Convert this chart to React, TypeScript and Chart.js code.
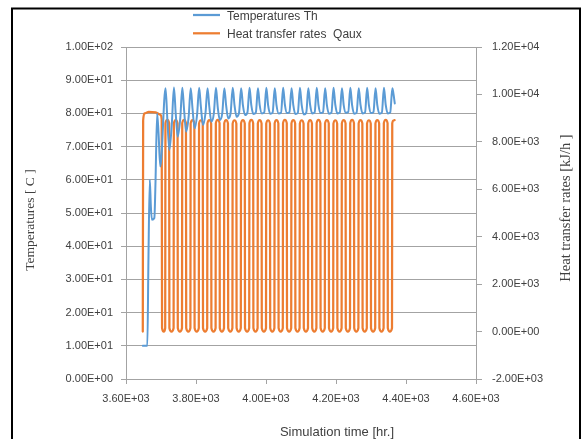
import React, { useEffect, useRef } from "react";
import { Chart, registerables } from "chart.js";

Chart.register(...registerables);

// ---- Data ----
const seriesLabels = ["Temperatures Th", "Heat transfer rates  Qaux"];

// Temperatures Th [C] (left axis)
const thHours = [
  3648, 3661, 3664, 3668, 3671, 3674, 3681, 3684, 3689, 3693, 3698,
  3713, 3718, 3724, 3731,
  3737, 3742, 3748, 3755,
  3761, 3766, 3772, 3779,
  3785, 3790, 3796, 3803,
  3809, 3814, 3820, 3827,
  3833, 3838, 3844, 3851,
  3857, 3862, 3868, 3875,
  3881, 3886, 3892, 3899,
  3905, 3910, 3916, 3923,
  3929, 3934, 3940, 3947,
  3953, 3958, 3964, 3971,
  3977, 3982, 3988, 3995,
  4001, 4006, 4012, 4019,
  4025, 4030, 4036, 4043,
  4049, 4054, 4060, 4067,
  4073, 4078, 4084, 4091,
  4097, 4102, 4108, 4115,
  4121, 4126, 4132, 4139,
  4145, 4150, 4156, 4163,
  4169, 4174, 4180, 4187,
  4193, 4198, 4204, 4211,
  4217, 4222, 4228, 4235,
  4241, 4246, 4252, 4259,
  4265, 4270, 4276, 4283,
  4289, 4294, 4300, 4307,
  4313, 4318, 4324, 4331,
  4337, 4342, 4348, 4355,
  4361, 4364, 4368,
];
const thValues = [
  10, 10, 35, 60, 52, 48, 48.5, 58, 80, 74, 64,
  87.6, 78.5, 69, 77,
  87.8, 80, 73, 78.5,
  87.7, 81, 74.5, 79,
  87.6, 81.5, 75.5, 79.5,
  87.7, 82, 76.5, 80,
  87.6, 82, 77.5, 80,
  87.7, 82, 78, 80,
  87.6, 82.5, 78.5, 80.2,
  87.7, 82.5, 79, 80.2,
  87.6, 82.5, 79.5, 80.3,
  87.7, 82.5, 79.8, 80.3,
  87.6, 82.5, 80, 80.3,
  87.7, 82.5, 79.9, 80.3,
  87.6, 82.5, 80, 80.2,
  87.7, 82.6, 80.1, 80.4,
  87.6, 82.5, 79.8, 80.2,
  87.7, 82.5, 79.7, 80.2,
  87.6, 82.6, 80, 80.3,
  87.7, 82.5, 80.1, 80.4,
  87.6, 82.5, 79.9, 80.2,
  87.7, 82.6, 80, 80.3,
  87.6, 82.5, 80.2, 80.4,
  87.7, 82.5, 79.9, 80.3,
  87.6, 82.6, 80, 80.3,
  87.7, 82.5, 80.1, 80.4,
  87.6, 82.5, 79.9, 80.2,
  87.7, 82.6, 80, 80.3,
  87.6, 86, 83,
];

// Heat transfer rates Qaux [kJ/h] (right axis)
const qauxHours = [
  3648, 3649, 3653, 3665, 3685, 3698, 3702, 3703, 3708,
  3712, 3712.7, 3718, 3723.3, 3724, 3730,
  3736, 3736.7, 3742, 3747.3, 3748, 3754,
  3760, 3760.7, 3766, 3771.3, 3772, 3778,
  3784, 3784.7, 3790, 3795.3, 3796, 3802,
  3808, 3808.7, 3814, 3819.3, 3820, 3826,
  3832, 3832.7, 3838, 3843.3, 3844, 3850,
  3856, 3856.7, 3862, 3867.3, 3868, 3874,
  3880, 3880.7, 3886, 3891.3, 3892, 3898,
  3904, 3904.7, 3910, 3915.3, 3916, 3922,
  3928, 3928.7, 3934, 3939.3, 3940, 3946,
  3952, 3952.7, 3958, 3963.3, 3964, 3970,
  3976, 3976.7, 3982, 3987.3, 3988, 3994,
  4000, 4000.7, 4006, 4011.3, 4012, 4018,
  4024, 4024.7, 4030, 4035.3, 4036, 4042,
  4048, 4048.7, 4054, 4059.3, 4060, 4066,
  4072, 4072.7, 4078, 4083.3, 4084, 4090,
  4096, 4096.7, 4102, 4107.3, 4108, 4114,
  4120, 4120.7, 4126, 4131.3, 4132, 4138,
  4144, 4144.7, 4150, 4155.3, 4156, 4162,
  4168, 4168.7, 4174, 4179.3, 4180, 4186,
  4192, 4192.7, 4198, 4203.3, 4204, 4210,
  4216, 4216.7, 4222, 4227.3, 4228, 4234,
  4240, 4240.7, 4246, 4251.3, 4252, 4258,
  4264, 4264.7, 4270, 4275.3, 4276, 4282,
  4288, 4288.7, 4294, 4299.3, 4300, 4306,
  4312, 4312.7, 4318, 4323.3, 4324, 4330,
  4336, 4336.7, 4342, 4347.3, 4348, 4354,
  4360, 4360.7, 4364, 4367.5,
];
const qauxValues = [
  0, 8900, 9200, 9260, 9240, 9150, 8950, 150, 0,
  150, 8790, 8930, 8790, 150, 0,
  150, 8780, 8920, 8780, 150, 0,
  150, 8790, 8930, 8790, 150, 0,
  150, 8780, 8920, 8780, 150, 0,
  150, 8770, 8910, 8770, 150, 0,
  150, 8780, 8920, 8780, 150, 0,
  150, 8790, 8930, 8790, 150, 0,
  150, 8780, 8920, 8780, 150, 0,
  150, 8770, 8910, 8770, 150, 0,
  150, 8780, 8920, 8780, 150, 0,
  150, 8790, 8930, 8790, 150, 0,
  150, 8780, 8920, 8780, 150, 0,
  150, 8770, 8910, 8770, 150, 0,
  150, 8780, 8920, 8780, 150, 0,
  150, 8790, 8930, 8790, 150, 0,
  150, 8780, 8920, 8780, 150, 0,
  150, 8770, 8910, 8770, 150, 0,
  150, 8780, 8920, 8780, 150, 0,
  150, 8790, 8930, 8790, 150, 0,
  150, 8780, 8920, 8780, 150, 0,
  150, 8770, 8910, 8770, 150, 0,
  150, 8780, 8920, 8780, 150, 0,
  150, 8790, 8930, 8790, 150, 0,
  150, 8780, 8920, 8780, 150, 0,
  150, 8770, 8910, 8770, 150, 0,
  150, 8780, 8920, 8780, 150, 0,
  150, 8790, 8930, 8790, 150, 0,
  150, 8780, 8900, 8920,
];

const xTickLabels = ["3.60E+03", "3.80E+03", "4.00E+03", "4.20E+03", "4.40E+03", "4.60E+03"];
const yTickLabels = [
  "0.00E+00", "1.00E+01", "2.00E+01", "3.00E+01", "4.00E+01", "5.00E+01",
  "6.00E+01", "7.00E+01", "8.00E+01", "9.00E+01", "1.00E+02",
];
const y2TickLabels = [
  "-2.00E+03", "0.00E+00", "2.00E+03", "4.00E+03", "6.00E+03", "8.00E+03", "1.00E+04", "1.20E+04",
];
const xTitle = "Simulation time [hr.]";
const yTitle = "Temperatures [ C ]";
const y2Title = "Heat transfer rates [kJ/h ]";

// ---- Styling ----
const BLUE = "#5B9BD5";
const ORANGE = "#ED7D31";
const GRID = "#a3a3a3";
const TEXT = "#404040";
const SANS = "'Liberation Sans', Arial, sans-serif";
const SERIF = "'Liberation Serif', 'Times New Roman', serif";

const decorPlugin = {
  id: "decor",
  afterDraw(chart: any) {
    const ctx = chart.ctx as CanvasRenderingContext2D;
    ctx.save();
    // outer frame
    ctx.strokeStyle = "#000";
    ctx.lineWidth = 2;
    ctx.beginPath();
    ctx.moveTo(12, 440);
    ctx.lineTo(12, 8.5);
    ctx.lineTo(580, 8.5);
    ctx.lineTo(580, 440);
    ctx.stroke();

    // legend (stacked)
    chart.data.datasets.forEach((ds: any, i: number) => {
      const y = 15 + i * 18.3;
      ctx.strokeStyle = ds.borderColor;
      ctx.lineWidth = 2.25;
      ctx.beginPath();
      ctx.moveTo(193, y);
      ctx.lineTo(220, y);
      ctx.stroke();
      ctx.fillStyle = TEXT;
      ctx.font = `12px ${SANS}`;
      ctx.textAlign = "left";
      ctx.textBaseline = "alphabetic";
      ctx.fillText(ds.label, 227, y + 4.5);
    });

    // x title
    ctx.fillStyle = TEXT;
    ctx.font = `13px ${SANS}`;
    ctx.textAlign = "center";
    ctx.textBaseline = "middle";
    ctx.fillText(xTitle, 337, 432);

    // left title
    ctx.save();
    ctx.translate(30, 220);
    ctx.rotate(-Math.PI / 2);
    ctx.font = `13.5px ${SERIF}`;
    ctx.fillText(yTitle, 0, 0);
    ctx.restore();

    // right title
    ctx.save();
    ctx.translate(566.5, 208);
    ctx.rotate(-Math.PI / 2);
    ctx.font = `14.5px ${SERIF}`;
    ctx.fillText(y2Title, 0, 0);
    ctx.restore();

    ctx.restore();
  },
};

export default function App() {
  const ref = useRef<HTMLCanvasElement | null>(null);

  useEffect(() => {
    if (!ref.current) return;
    const thData = thHours.map((h, i) => ({ x: h, y: thValues[i] }));
    const qData = qauxHours.map((h, i) => ({ x: h, y: qauxValues[i] }));
    const tickFont = { family: SANS, size: 11 };

    const chart = new Chart(ref.current, {
      type: "line",
      data: {
        datasets: [
          {
            label: seriesLabels[0],
            data: thData,
            yAxisID: "y",
            borderColor: BLUE,
            backgroundColor: BLUE,
            borderWidth: 2,
            pointRadius: 0,
            cubicInterpolationMode: "monotone",
            borderJoinStyle: "round",
            borderCapStyle: "round",
            fill: false,
          },
          {
            label: seriesLabels[1],
            data: qData,
            yAxisID: "y2",
            borderColor: ORANGE,
            backgroundColor: ORANGE,
            borderWidth: 2.25,
            pointRadius: 0,
            cubicInterpolationMode: "monotone",
            borderJoinStyle: "round",
            borderCapStyle: "round",
            fill: false,
          },
        ],
      },
      options: {
        responsive: false,
        animation: false,
        devicePixelRatio: 1,
        events: [],
        layout: { padding: { top: 47, left: 0, right: 0, bottom: 0 } },
        plugins: {
          legend: { display: false },
          tooltip: { enabled: false },
          title: { display: false },
        },
        scales: {
          x: {
            type: "linear",
            min: 3600,
            max: 4600,
            ticks: {
              stepSize: 200,
              font: tickFont,
              color: TEXT,
              padding: 8,
              maxRotation: 0,
              callback: (_v: any, i: number) => xTickLabels[i],
            },
            grid: { drawOnChartArea: false, drawTicks: true, tickLength: 5, color: GRID },
            border: { display: true, color: GRID, width: 1 },
            afterFit: (s: any) => {
              s.height = 60;
            },
          },
          y: {
            type: "linear",
            position: "left",
            min: 0,
            max: 100,
            ticks: {
              stepSize: 10,
              font: tickFont,
              color: TEXT,
              padding: 8,
              callback: (_v: any, i: number) => yTickLabels[i],
            },
            grid: { drawOnChartArea: true, drawTicks: true, tickLength: 5, color: GRID },
            border: { display: true, color: GRID, width: 1 },
            afterFit: (s: any) => {
              s.width = 126;
            },
          },
          y2: {
            type: "linear",
            position: "right",
            min: -2000,
            max: 12000,
            ticks: {
              stepSize: 2000,
              font: tickFont,
              color: TEXT,
              padding: 10,
              callback: (_v: any, i: number) => y2TickLabels[i],
            },
            grid: { drawOnChartArea: false, drawTicks: true, tickLength: 6, color: GRID },
            border: { display: true, color: GRID, width: 1 },
            afterFit: (s: any) => {
              s.width = 108;
            },
          },
        },
      },
      plugins: [decorPlugin],
    } as any);

    return () => chart.destroy();
  }, []);

  return (
    <div
      style={{
        position: "absolute",
        left: 0,
        top: 0,
        width: 584,
        height: 439,
        background: "#ffffff",
      }}
    >
      <canvas ref={ref} width={584} height={439} style={{ width: 584, height: 439, display: "block" }} />
    </div>
  );
}
